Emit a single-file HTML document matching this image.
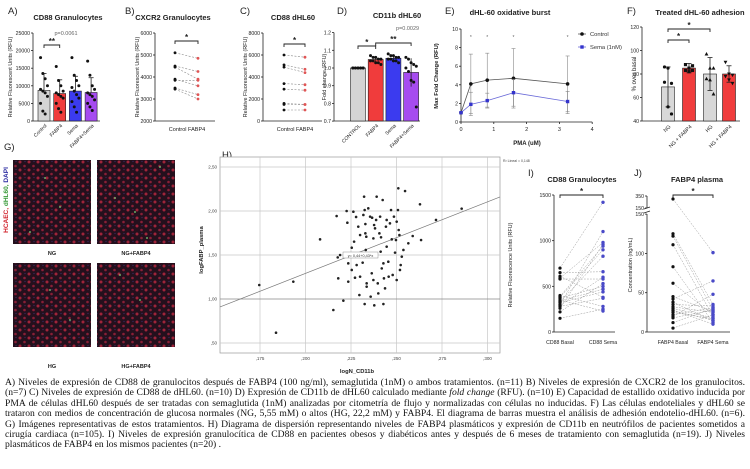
<!DOCTYPE html>
<html><head><meta charset="utf-8">
<style>
html,body{margin:0;padding:0;background:#fff;}
body{width:750px;height:469px;position:relative;overflow:hidden;font-family:"Liberation Sans",sans-serif;}
#fig{position:absolute;left:0;top:0;}
#caption{position:absolute;left:5px;top:378px;width:740px;font-family:"Liberation Serif",serif;font-size:9.6px;line-height:10.4px;color:#111;}
#caption div{text-align:justify;text-align-last:justify;white-space:nowrap;}
#caption div.last{text-align-last:left;}
</style></head>
<body>
<svg id="fig" width="750" height="469" viewBox="0 0 750 469">
<defs>
<pattern id="cells" width="9" height="8" patternUnits="userSpaceOnUse">
<rect width="9" height="8" fill="#24101d"/>
<circle cx="2" cy="2" r="1.5" fill="#a0243a"/>
<circle cx="6.5" cy="6" r="1.3" fill="#8a1f36"/>
<circle cx="7" cy="1.5" r="0.6" fill="#3a2a6a"/>
</pattern>
</defs>
<g id="root"></g>
</svg>
<div id="caption">
<div>A) Niveles de expresión de CD88 de granulocitos después de FABP4 (100 ng/ml), semaglutida (1nM) o ambos tratamientos. (n=11) B) Niveles de expresión de CXCR2 de los granulocitos.</div>
<div>(n=7) C) Niveles de expresión de CD88 de dHL60. (n=10) D) Expresión de CD11b de dHL60 calculado mediante <i>fold change</i> (RFU). (n=10) E) Capacidad de estallido oxidativo inducida por</div>
<div>PMA de células dHL60 después de ser tratadas con semaglutida (1nM) analizadas por citometría de flujo y normalizadas con células no inducidas. F) Las células endoteliales y dHL60 se</div>
<div>trataron con medios de concentración de glucosa normales (NG, 5,55 mM) o altos (HG, 22,2 mM) y FABP4. El diagrama de barras muestra el análisis de adhesión endotelio-dHL60. (n=6).</div>
<div>G) Imágenes representativas de estos tratamientos. H) Diagrama de dispersión representando niveles de FABP4 plasmáticos y expresión de CD11b en neutrófilos de pacientes sometidos a</div>
<div>cirugía cardiaca (n=105). I) Niveles de expresión granulocítica de CD88 en pacientes obesos y diabéticos antes y después de 6 meses de tratamiento con semaglutida (n=19). J) Niveles</div>
<div class="last">plasmáticos de FABP4 en los mismos pacientes (n=20) .</div>
</div>
<script>
// ---- Panel A data ----
const aCats=['Control','FABP4','Sema','FABP4+Sema'];
const aMeans=[8700,7800,8500,8100];
const aSD=[4800,3900,4200,4200];
const aPts=[[18000,13500,12000,10000,9000,8500,8000,7000,5000,2800,2000],[15500,11500,10000,8500,8000,7500,7000,6500,5000,3500,2500],[18000,13000,11500,10000,9500,8500,7500,6500,5500,4000,2500],[17000,13000,10000,9000,8000,7500,7000,6000,5000,4000,3000]];
const aTicks=[0,5000,10000,15000,20000,25000];
// ---- Panel B data ----
const bControl=[5100,4500,4450,3900,3850,3500,3450];
const bFabp4=[4850,4250,3900,3600,3850,3200,3000];
const bTicks=[2000,3000,4000,5000,6000];
// ---- Panel C data ----
const cControl=[6000,5100,4900,3400,2900,1600,1500,1000];
const cFabp4=[5800,4700,4400,3300,2800,1500,1500,1000];
const cTicks=[0,2000,4000,6000,8000];
// ---- Panel D data ----
const dCats=['CONTROL','FABP4','Sema','FABP4+Sema'];
const dMeans=[1.0,1.048,1.055,0.975];
const dSD=[0.002,0.012,0.015,0.08];
const dPts=[[1,1,1,1,1,1,1,1,1,1],[1.07,1.06,1.06,1.05,1.05,1.04,1.04,1.03,1.03,1.02],[1.08,1.07,1.07,1.06,1.06,1.05,1.05,1.04,1.04,1.03],[1.06,1.05,1.03,1.02,1.01,1.0,0.98,0.93,0.92,0.78]];
const dTicks=[0.7,0.8,0.9,1.0,1.1,1.2];
// ---- Panel E data ----
const ePMA=[0,0.3,0.8,1.6,3.25];
const eControl=[1,4.1,4.5,4.7,4.1];
const eControlHi=[1,7.3,7.4,7.9,7.1];
const eControlLo=[1,0.9,1.6,1.5,1.1];
const eSema=[1,1.9,2.3,3.15,2.2];
const eSemaHi=[1,3.2,3.1,4.6,3.3];
const eSemaLo=[1,0.7,1.5,1.7,0.9];
const eXTicks=[0,1,2,3,4];
const eYTicks=[0,2,4,6,8,10];
// ---- Panel F data ----
const fCats=['NG','NG + FABP4','HG','HG + FABP4'];
const fMeans=[69,85,80,80];
const fSD=[17,4,14,7];
const fPts=[[86,85,72,73,52,46],[88,85,83,83,82,87],[97,85,85,76,75,63],[90,80,79,78,75,72]];
const fTicks=[40,60,80,100,120];
// ---- Panel H data ----
const hX=[1.746,1.838,1.933,2.080,2.153,2.171,2.177,2.180,2.208,2.226,2.230,2.235,2.235,2.254,2.263,2.267,2.272,2.278,2.290,2.296,2.300,2.314,2.318,2.322,2.325,2.325,2.329,2.329,2.331,2.334,2.336,2.336,2.355,2.358,2.364,2.366,2.373,2.373,2.377,2.378,2.388,2.391,2.391,2.397,2.400,2.406,2.410,2.413,2.415,2.419,2.424,2.428,2.431,2.437,2.442,2.446,2.455,2.457,2.464,2.470,2.474,2.479,2.486,2.492,2.497,2.501,2.508,2.510,2.512,2.516,2.519,2.523,2.529,2.538,2.547,2.565,2.589,2.629,2.635,2.717,2.858,2.190,2.281,2.345,2.428,2.300,2.501,2.446,2.382,2.254];
const hY=[1.159,0.617,1.197,1.678,0.875,1.943,1.473,1.235,0.981,2.000,1.867,1.405,1.197,1.583,1.992,1.652,1.242,1.932,1.822,1.045,1.727,1.413,1.955,2.163,2.011,0.943,1.852,1.746,1.557,1.708,1.178,1.140,1.936,1.027,1.292,1.924,1.689,1.216,1.841,0.928,1.898,2.163,1.519,1.178,1.064,1.746,1.936,1.538,1.701,1.348,2.125,0.943,1.235,1.121,1.822,1.898,1.424,1.254,1.860,2.011,1.678,1.273,1.936,1.527,1.670,1.879,2.011,2.258,1.784,1.727,1.330,1.386,1.481,1.557,2.227,1.633,1.716,2.076,1.670,1.898,2.027,1.500,1.386,2.030,1.405,1.254,1.216,1.595,1.803,1.330];
const hXTicks=[1.75,2.00,2.25,2.50,2.75,3.00];
const hXLabels=[',175',',200',',225',',250',',275',',300'];
const hYTicks=[0.5,1.0,1.5,2.0,2.5];
const hYLabels=[',50','1,00','1,50','2,00','2,50'];
const hFit=[-0.333,0.812];
// ---- Panel I data ----
const iBasal=[700,650,610,590,580,400,390,370,350,330,320,300,290,280,260,220,150,380,340];
const iSema=[1420,1100,980,960,940,900,830,660,600,580,530,500,470,440,380,370,280,250,230];
const iTicks=[0,500,1000,1500];
// ---- Panel J data ----
const jBasal=[300,125,122,111,83,62,45,42,35,32,30,28,25,22,20,12,5,27,18,38];
const jSema=[101,65,48,35,33,30,28,25,22,20,18,15,12,10,28,22,17,14,26,31];
const jTicks=[0,50,100,150];

const NS='http://www.w3.org/2000/svg';
const root=document.getElementById('root');
function mk(tag,attrs,name,parent){
  const e=document.createElementNS(NS,tag);
  for(const k in attrs) e.setAttribute(k,attrs[k]);
  
  
  (parent||root).appendChild(e);
  return e;
}
function txt(x,y,s,name,opts){
  opts=opts||{};
  const a={x:x,y:y,'font-size':opts.size||5.5,'font-family':'Liberation Sans, sans-serif',fill:opts.fill||'#222','text-anchor':opts.anchor||'middle'};
  if(opts.bold) a['font-weight']='bold';
  if(opts.rot!==undefined) a.transform='rotate('+opts.rot+' '+x+' '+y+')';
  if(opts.italic) a['font-style']='italic';
  const t=mk('text',a,name);
  t.textContent=s;
  return t;
}
function line(x1,y1,x2,y2,name,stroke,w,dash){
  const a={x1:x1,y1:y1,x2:x2,y2:y2,stroke:stroke||'#222','stroke-width':w||0.8};
  if(dash) a['stroke-dasharray']=dash;
  return mk('line',a,name);
}
function yAxis(x,ticks,sc,fmt,name){
  line(x,sc(ticks[ticks.length-1]),x,sc(ticks[0]),name+'-line');
  ticks.forEach(t=>{line(x-2,sc(t),x,sc(t),name+'-tick');txt(x-3,sc(t)+2,fmt(t),name+'-label',{anchor:'end',size:5.2});});
}
function bracket(x1,x2,y,star,name){
  mk('path',{d:'M'+x1+' '+(y+3)+'V'+y+'H'+x2+'V'+(y+3),fill:'none',stroke:'#222','stroke-width':0.9},name);
  txt((x1+x2)/2,y-1,star,name+'-star',{size:8,bold:true});
}
function dot(x,y,r,fill,name){return mk('circle',{cx:x,cy:y,r:r,fill:fill},name);}

[['A)',8,14],['B)',125,14],['C)',240,14],['D)',337,14],['E)',445,14],['F)',627,14],['G)',4,150],['H)',222,158],['I)',528,176],['J)',634,176]].forEach(p=>txt(p[1],p[2],p[0],'panel-letter',{size:9.5,anchor:'start'}));

// ---------- Panel A ----------
{
 const y=v=>121-v/25000*88, cx=i=>44+i*15.7, cols=['#d4d4d4','#f03c3c','#3b3bef','#a64cf0'];
 yAxis(33,aTicks,y,v=>String(v),'a-y-axis');
 line(33,121,100,121,'a-x-axis');
 aCats.forEach((c,i)=>{
  mk('rect',{x:cx(i)-6,y:y(aMeans[i]),width:12,height:121-y(aMeans[i]),fill:cols[i],stroke:'#222','stroke-width':0.6},'a-bar-'+i);
  line(cx(i),y(aMeans[i]+aSD[i]),cx(i),y(aMeans[i]),'a-error');
  line(cx(i)-2.5,y(aMeans[i]+aSD[i]),cx(i)+2.5,y(aMeans[i]+aSD[i]),'a-error-cap');
  aPts[i].forEach((v,j)=>dot(cx(i)+((j%4)-1.5)*2.3,y(v),1.5,'#111','a-point'));
  txt(cx(i)+3,126,c,'a-x-label',{size:5,anchor:'end',rot:-45});
 });
 txt(68,20,'CD88 Granulocytes','a-title',{size:7.5,bold:true});
 txt(66,35,'p=0.0061','a-pvalue',{size:5.5,fill:'#666'});
 bracket(cx(0),cx(1),45,'**','a-bracket');
 txt(12,77,'Relative Fluorescent Units (RFU)','a-y-title',{size:5.5,rot:-90});
}
// ---------- Panel B ----------
{
 const y=v=>121-(v-2000)/4000*88, x0=175, x1=198;
 yAxis(155,bTicks,y,v=>String(v),'b-y-axis');
 line(155,121,215,121,'b-x-axis');
 bControl.forEach((v,i)=>{line(x0,y(v),x1,y(bFabp4[i]),'b-pair-line','#888',0.6,'2,1.5');dot(x0,y(v),1.4,'#111','b-control-point');dot(x1,y(bFabp4[i]),1.4,'#e05555','b-fabp4-point');});
 txt(173,20,'CXCR2 Granulocytes','b-title',{size:7.5,bold:true});
 bracket(x0,x1,41,'*','b-bracket');
 txt(187,131,'Control FABP4','b-x-label',{size:5.5});
 txt(139,77,'Relative Fluorescent Units (RFU)','b-y-title',{size:5.5,rot:-90});
}
// ---------- Panel C ----------
{
 const y=v=>121-v/8000*88, x0=284, x1=305;
 yAxis(263,cTicks,y,v=>String(v),'c-y-axis');
 line(263,121,322,121,'c-x-axis');
 cControl.forEach((v,i)=>{line(x0,y(v),x1,y(cFabp4[i]),'c-pair-line','#888',0.6,'2,1.5');dot(x0,y(v),1.4,'#111','c-control-point');dot(x1,y(cFabp4[i]),1.4,'#e05555','c-fabp4-point');});
 txt(293,20,'CD88 dHL60','c-title',{size:7.5,bold:true});
 bracket(x0,x1,44,'*','c-bracket');
 txt(295,131,'Control FABP4','c-x-label',{size:5.5});
 txt(247,77,'Relative Fluorescent Units (RFU)','c-y-title',{size:5.5,rot:-90});
}
// ---------- Panel D ----------
{
 const y=v=>68-(v-1)*177, cx=i=>358+i*17.7, cols=['#d4d4d4','#f03c3c','#3b3bef','#a64cf0'];
 yAxis(334,dTicks,y,v=>v.toFixed(1),'d-y-axis');
 line(334,121,420,121,'d-x-axis');
 dCats.forEach((c,i)=>{
  mk('rect',{x:cx(i)-7.5,y:y(dMeans[i]),width:15,height:121-y(dMeans[i]),fill:cols[i],stroke:'#222','stroke-width':0.6},'d-bar-'+i);
  line(cx(i),y(dMeans[i]+dSD[i]),cx(i),y(dMeans[i]-dSD[i]),'d-error');
  dPts[i].forEach((v,j)=>dot(cx(i)+((j%5)-2)*2.6,y(v),1.5,'#111','d-point'));
  txt(cx(i)+3,126,c,'d-x-label',{size:5,anchor:'end',rot:-45});
 });
 txt(397,18,'CD11b dHL60','d-title',{size:7.5,bold:true});
 txt(396,30,'p=0.0029','d-pvalue',{size:5.5,fill:'#666',anchor:'start'});
 bracket(cx(0),cx(1),46,'*','d-bracket-1');
 bracket(cx(1),cx(3),43,'**','d-bracket-2');
 txt(326,77,'Fold change (RFU)','d-y-title',{size:5.5,rot:-90});
}
// ---------- Panel E ----------
{
 const x=v=>461+v*32.8, y=v=>122-v*9.3;
 yAxis(461,eYTicks,y,v=>String(v),'e-y-axis');
 line(461,122,x(4),122,'e-x-axis');
 eXTicks.forEach(t=>{line(x(t),122,x(t),124,'e-x-tick');txt(x(t),131,String(t),'e-x-label',{size:5.5});});
 const series=[[eControl,eControlHi,eControlLo,'#555','#111','control'],[eSema,eSemaHi,eSemaLo,'#6a6ad8','#3434cc','sema']];
 series.forEach(s=>{
  ePMA.forEach((p,i)=>{line(x(p),y(s[1][i]),x(p),y(s[2][i]),'e-'+s[5]+'-error','#888',0.6);line(x(p)-2,y(s[1][i]),x(p)+2,y(s[1][i]),'e-'+s[5]+'-cap','#888',0.6);line(x(p)-2,y(s[2][i]),x(p)+2,y(s[2][i]),'e-'+s[5]+'-cap','#888',0.6);});
  mk('polyline',{points:ePMA.map((p,i)=>x(p)+','+y(s[0][i])).join(' '),fill:'none',stroke:s[3],'stroke-width':0.8},'e-'+s[5]+'-line');
  ePMA.forEach((p,i)=>{ if(s[5]==='control') dot(x(p),y(s[0][i]),1.8,s[4],'e-control-point'); else mk('rect',{x:x(p)-1.7,y:y(s[0][i])-1.7,width:3.4,height:3.4,fill:s[4]},'e-sema-point');});
 });
 ePMA.slice(1).forEach(p=>txt(x(p),39,'*','e-star',{size:5,fill:'#666'}));
 txt(510,15,'dHL-60 oxidative burst','e-title',{size:7.5,bold:true});
 line(578,34,586,34,'e-legend-line','#555');dot(582,34,1.8,'#111','e-legend-control-marker');
 txt(590,36,'Control','e-legend-control',{size:5.8,anchor:'start',fill:'#333'});
 line(578,47,586,47,'e-legend-line','#6a6ad8');mk('rect',{x:580.3,y:45.3,width:3.4,height:3.4,fill:'#3434cc'},'e-legend-sema-marker');
 txt(590,49,'Sema (1nM)','e-legend-sema',{size:5.8,anchor:'start',fill:'#333'});
 txt(527,145,'PMA (uM)','e-x-title',{size:6,bold:true});
 txt(438,76,'Max Fold Change (RFU)','e-y-title',{size:5.8,bold:true,rot:-90});
}
// ---------- Panel F ----------
{
 const y=v=>121-(v-40)*1.175, cx=i=>[668,689,710,729][i], cols=['#d8d8d8','#f03c3c','#d8d8d8','#f03c3c'];
 yAxis(642,fTicks,y,v=>String(v),'f-y-axis');
 line(642,121,740,121,'f-x-axis');
 fCats.forEach((c,i)=>{
  mk('rect',{x:cx(i)-6.5,y:y(fMeans[i]),width:13,height:121-y(fMeans[i]),fill:cols[i],stroke:'#222','stroke-width':0.6},'f-bar-'+i);
  line(cx(i),y(fMeans[i]+fSD[i]),cx(i),y(fMeans[i]-fSD[i]),'f-error');
  line(cx(i)-2.5,y(fMeans[i]+fSD[i]),cx(i)+2.5,y(fMeans[i]+fSD[i]),'f-error-cap');
  line(cx(i)-2.5,y(fMeans[i]-fSD[i]),cx(i)+2.5,y(fMeans[i]-fSD[i]),'f-error-cap');
  fPts[i].forEach((v,j)=>{
   const px=cx(i)+((j%3)-1)*3.5, py=y(v);
   if(i===0) dot(px,py,1.6,'#111','f-point');
   else if(i===1) mk('rect',{x:px-1.6,y:py-1.6,width:3.2,height:3.2,fill:'#111'},'f-point');
   else if(i===2) mk('polygon',{points:px+','+(py-2)+' '+(px-1.9)+','+(py+1.5)+' '+(px+1.9)+','+(py+1.5),fill:'#111'},'f-point');
   else mk('polygon',{points:px+','+(py+2)+' '+(px-1.9)+','+(py-1.5)+' '+(px+1.9)+','+(py-1.5),fill:'#111'},'f-point');
  });
  txt(cx(i)+3,127,c,'f-x-label',{size:5.2,anchor:'end',rot:-45});
 });
 txt(700,15,'Treated dHL-60 adhesion','f-title',{size:7.5,bold:true});
 bracket(cx(0),cx(1),40,'*','f-bracket-1');
 bracket(cx(0),cx(2),29,'*','f-bracket-2');
 txt(636,74,'% over basal','f-y-title',{size:6,rot:-90});
}
// ---------- Panel G ----------
{
 const imgs=[[13,160,'g-image-ng'],[97,160,'g-image-ng-fabp4'],[13,263,'g-image-hg'],[97,263,'g-image-hg-fabp4']];
 imgs.forEach(g=>{mk('rect',{x:g[0],y:g[1],width:78,height:84,fill:'url(#cells)'},g[2]);});
 [[45,178],[60,207],[30,232],[160,167],[135,212],[147,238],[115,198],[50,290],[140,300],[70,320],[120,275]].forEach(p=>dot(p[0],p[1],0.9,'#7bd67b','g-green-cell'));
 txt(52,255,'NG','g-label',{size:5.5,bold:true});
 txt(136,255,'NG+FABP4','g-label',{size:5.5,bold:true});
 txt(52,368,'HG','g-label',{size:5.5,bold:true});
 txt(136,368,'HG+FABP4','g-label',{size:5.5,bold:true});
 const t=mk('text',{x:8,y:200,'font-size':6.5,'font-weight':'bold','font-family':'Liberation Sans, sans-serif','text-anchor':'middle',transform:'rotate(-90 8 200)'},'g-y-title');
 [['HCAEC, ','#d0202a'],['dHL60, ','#3a9a3a'],['DAPI','#2a2aa0']].forEach(s=>{const ts=mk('tspan',{fill:s[1]},'g-y-title-part',t);ts.textContent=s[0];});
}
// ---------- Panel H ----------
{
 const x=v=>260+(v-1.75)/0.25*45.5, y=v=>299-(v-1)/0.5*44;
 const L=220,R=500,T=157,B=353;
 mk('rect',{x:L,y:T,width:R-L,height:B-T,fill:'#fff',stroke:'#999','stroke-width':0.7},'h-plot-frame');
 hXTicks.forEach((t,i)=>{line(x(t),T,x(t),B,'h-x-grid','#c8c8c8',0.7);txt(x(t),360,hXLabels[i],'h-x-label',{size:4.5,fill:'#444'});});
 hYTicks.forEach((t,i)=>{line(L,y(t),R,y(t),'h-y-grid',t===1?'#888':'#c8c8c8',0.7);txt(L-3,y(t)+1.5,hYLabels[i],'h-y-label',{size:4.5,anchor:'end',fill:'#444'});});
 const xl=1.53, xr=3.07;
 line(L,y(hFit[0]+hFit[1]*xl),R,y(hFit[0]+hFit[1]*xr),'h-fit-line','#777',0.7);
 hX.forEach((v,i)=>dot(x(v),y(hY[i]),1.3,'#222','h-point'));
 mk('rect',{x:343,y:252,width:35,height:6,fill:'#fff',stroke:'#777','stroke-width':0.4},'h-fit-label-box');
 txt(360.5,256.8,'y= 0,44+0,43*x','h-fit-label',{size:3.8,fill:'#333'});
 txt(503,162,'R² Lineal = 0,148','h-r2',{size:3.5,anchor:'start',fill:'#444'});
 txt(357,373,'logN_CD11b','h-x-title',{size:5.8,bold:true});
 txt(203,250,'logFABP_plasma','h-y-title',{size:5.8,bold:true,rot:-90});
}
// ---------- Panel I ----------
{
 const y=v=>332-v/1500*137, x0=560, x1=603;
 yAxis(554,iTicks,y,v=>String(v),'i-y-axis');
 line(554,332,615,332,'i-x-axis');
 iBasal.forEach((v,i)=>line(x0,y(v),x1,y(iSema[(i*7)%iSema.length]),'i-pair-line','#999',0.5,'1.8,1.2'));
 iBasal.forEach(v=>dot(x0,y(v),1.6,'#111','i-basal-point'));
 iSema.forEach(v=>dot(x1,y(v),1.7,'#4a4ac8','i-sema-point'));
 txt(582,182,'CD88 Granulocytes','i-title',{size:7.5,bold:true});
 bracket(x0,x1,195,'*','i-bracket');
 txt(x0,344,'CD88 Basal','i-x-label',{size:5.2});
 txt(x1,344,'CD88 Sema','i-x-label',{size:5.2});
 txt(512,265,'Relative Fluorescence Units (RFU)','i-y-title',{size:5.5,rot:-90});
}
// ---------- Panel J ----------
{
 const y=v=>v>150?208-(v-150)/200*12:332-v/50*39.3, x0=673, x1=713;
 line(647,214,647,332,'j-y-axis-line');
 line(647,196,647,208,'j-y-axis-line-upper');
 line(644,209,650,207,'j-axis-break');line(644,213,650,211,'j-axis-break');
 jTicks.forEach(t=>{line(645,y(t),647,y(t),'j-y-tick');txt(644,y(t)+2,String(t),'j-y-label',{size:5.2,anchor:'end'});});
 [[350,196],[150,208]].forEach(p=>{line(645,p[1],647,p[1],'j-y-tick');txt(644,p[1]+2,String(p[0]),'j-y-label',{size:5.2,anchor:'end'});});
 line(647,332,730,332,'j-x-axis');
 jBasal.forEach((v,i)=>line(x0,y(v),x1,y(jSema[(i*3)%jSema.length]),'j-pair-line','#999',0.5,'1.8,1.2'));
 jBasal.forEach(v=>dot(x0,y(v),1.6,'#111','j-basal-point'));
 jSema.forEach(v=>dot(x1,y(v),1.7,'#4a4ac8','j-sema-point'));
 txt(697,182,'FABP4 plasma','j-title',{size:7.5,bold:true});
 bracket(x0,x1,195,'*','j-bracket');
 txt(x0,344,'FABP4 Basal','j-x-label',{size:5.2});
 txt(x1,344,'FABP4 Sema','j-x-label',{size:5.2});
 txt(632,265,'Concentration (ng/mL)','j-y-title',{size:5.5,rot:-90});
}
</script>
</body></html>
